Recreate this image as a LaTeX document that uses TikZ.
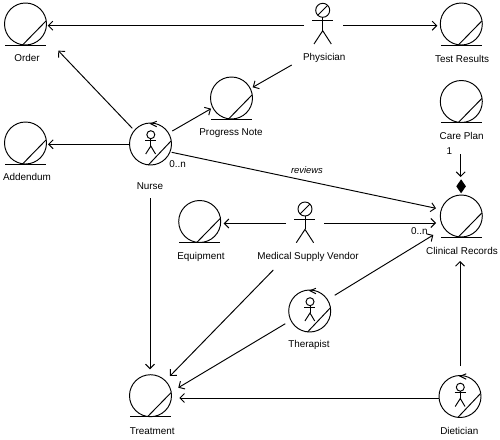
\documentclass[tikz,border=0pt]{standalone}
\usepackage{fontspec}
\setmainfont{Liberation Sans}
\usetikzlibrary{arrows.meta,calc}
\tikzset{
  every path/.style={line width=0.95pt},
  blob/.style={circle,draw,line width=0.95pt,minimum size=42pt,inner sep=0pt,outer sep=0pt},
  headc/.style={circle,draw,line width=0.95pt,minimum size=14pt,inner sep=0pt,outer sep=0pt},
  txt/.style={inner sep=0pt,font=\fontsize{9.9}{11}\selectfont,text=black},
  arr/.style={-{Straight Barb[length=4.5pt,width=9pt,line width=0.95pt]}}
}
\newcommand{\entdeco}[1]{%
  \draw ($(#1)+(-20.5,21)$) -- ($(#1)+(20.5,21)$);
  \draw ($(#1)+(-2.5,20.5)$) -- ($(#1)+(20.5,-3)$);}
\newcommand{\workdeco}[1]{%
  \draw ($(#1)+(-2.2,21)$) -- ($(#1)+(20.5,-3)$);
  \draw ($(#1)+(0.3,-9.3)$) circle (4pt);
  \draw ($(#1)+(0.3,-5.3)$) -- ($(#1)+(0.3,2)$);
  \draw ($(#1)+(-5.3,-3.7)$) -- ($(#1)+(5.5,-3.7)$);
  \draw ($(#1)+(-4.8,10)$) -- ($(#1)+(0.3,2)$) -- ($(#1)+(5,10)$);
  \draw ($(#1)+(6.2,-22.7)$) -- ($(#1)+(0.2,-20.3)$) -- ($(#1)+(6.2,-17.3)$);}
\newcommand{\actdeco}[1]{%
  \draw ($(#1)+(-4.8,4.8)$) -- ($(#1)+(4.8,-4.8)$);
  \draw ($(#1)+(0,7)$) -- ($(#1)+(0,20.4)$);
  \draw ($(#1)+(-10.7,10.4)$) -- ($(#1)+(10.3,10.4)$);
  \draw ($(#1)+(-8.7,33.7)$) -- ($(#1)+(0,20.4)$) -- ($(#1)+(8.6,33.7)$);}
\begin{document}
\begin{tikzpicture}[x=1pt,y=-1pt]
\useasboundingbox (0,0) rectangle (500,439);
% entities
\node[blob] (order) at (25.5,24) {};
\node[blob] (addendum) at (25.5,143) {};
\node[blob] (progress) at (231.5,98) {};
\node[blob] (results) at (461.3,24) {};
\node[blob] (careplan) at (461.3,101.5) {};
\node[blob] (records) at (461.3,216) {};
\node[blob] (equipment) at (199.7,221.5) {};
\node[blob] (treatment) at (150.5,395.7) {};
\foreach \n in {order,addendum,progress,results,careplan,records,equipment,treatment}{\entdeco{\n}}
% workers
\node[blob] (nurse) at (150.5,144) {};
\node[blob] (therapist) at (309.7,311) {};
\node[blob] (dietician) at (460,396.5) {};
\foreach \n in {nurse,therapist,dietician}{\workdeco{\n}}
% actors
\node[headc] (physician) at (322.7,10.3) {};
\node[headc] (vendor) at (305,209) {};
\foreach \n in {physician,vendor}{\actdeco{\n}}
% labels
\node[txt] (lorder) at (27,58) {Order};
\node[txt] (laddendum) at (27,177) {Addendum};
\node[txt] (lnurse) at (150,185.7) {Nurse};
\node[txt] (lprogress) at (231,132.7) {Progress Note};
\node[txt] (lphysician) at (324.3,58) {Physician};
\node[txt] (lresults) at (462,58.5) {Test Results};
\node[txt] (lcare) at (461.7,136) {Care Plan};
\node[txt] (lone) at (449.3,151.5) {1};
\node[txt,font=\fontsize{9.4}{11}\selectfont\itshape] (lreviews) at (307,170) {reviews};
\node[txt] (lzeroa) at (177.7,164.3) {0..n};
\node[txt] (lzerob) at (419.3,231.3) {0..n};
\node[txt] (lrecords) at (462,250.7) {Clinical Records};
\node[txt] (lequipment) at (201,257) {Equipment};
\node[txt] (lvendor) at (308,257) {Medical Supply Vendor};
\node[txt] (ltherapist) at (309,345.3) {Therapist};
\node[txt] (ltreatment) at (152.3,431) {Treatment};
\node[txt] (ldietician) at (459.3,431) {Dietician};
% connectors
\draw[arr] ($(physician)+(-18.7,15.4)$) -- ($(order)+(22.2,1.7)$);
\draw[arr] ($(physician)+(20.3,15.4)$) -- ($(results)+(-24,1.7)$);
\draw[arr] ($(physician)+(-31,54.7)$) -- ($(progress)+(21.2,-10.7)$);
\draw[arr] ($(nurse)+(-18.2,-15.7)$) -- ($(order)+(32.8,26.7)$);
\draw[arr] ($(nurse)+(-21.2,0.3)$) -- ($(addendum)+(22.5,1.3)$);
\draw[arr] ($(nurse)+(21.8,-13)$) -- ($(progress)+(-20.5,10.7)$);
\draw[arr] ($(nurse)+(21.2,8.3)$) -- ($(records)+(-25.3,-7.7)$);
\draw[arr] ($(nurse)+(-0.5,54.3)$) -- ($(treatment)+(-0.5,-26.4)$);
\draw[arr] ($(vendor)+(-19,14.5)$) -- ($(equipment)+(24,2)$);
\draw[arr] ($(vendor)+(19,14)$) -- ($(records)+(-25.3,7)$);
\draw[arr] ($(vendor)+(-31.7,61)$) -- ($(treatment)+(19.5,-19.7)$);
\draw[arr] ($(therapist)+(25,-15.7)$) -- ($(records)+(-28,19)$);
\draw[arr] ($(therapist)+(-24.4,12.7)$) -- ($(treatment)+(27.8,-8)$);
\draw[arr] ($(dietician)+(-21,1.5)$) -- ($(treatment)+(28.8,2.3)$);
\draw[arr] ($(dietician)+(0,-30.5)$) -- ($(records)+(-1.3,45)$);
\draw[arr] ($(careplan)+(-0.6,52.5)$) -- ($(careplan)+(-0.6,75.5)$);
\fill[black] ($(records)+(-0.2,-36.7)$) -- ($(records)+(4.6,-29.7)$) -- ($(records)+(-0.2,-22.7)$) -- ($(records)+(-5,-29.7)$) -- cycle;
\end{tikzpicture}
\end{document}
